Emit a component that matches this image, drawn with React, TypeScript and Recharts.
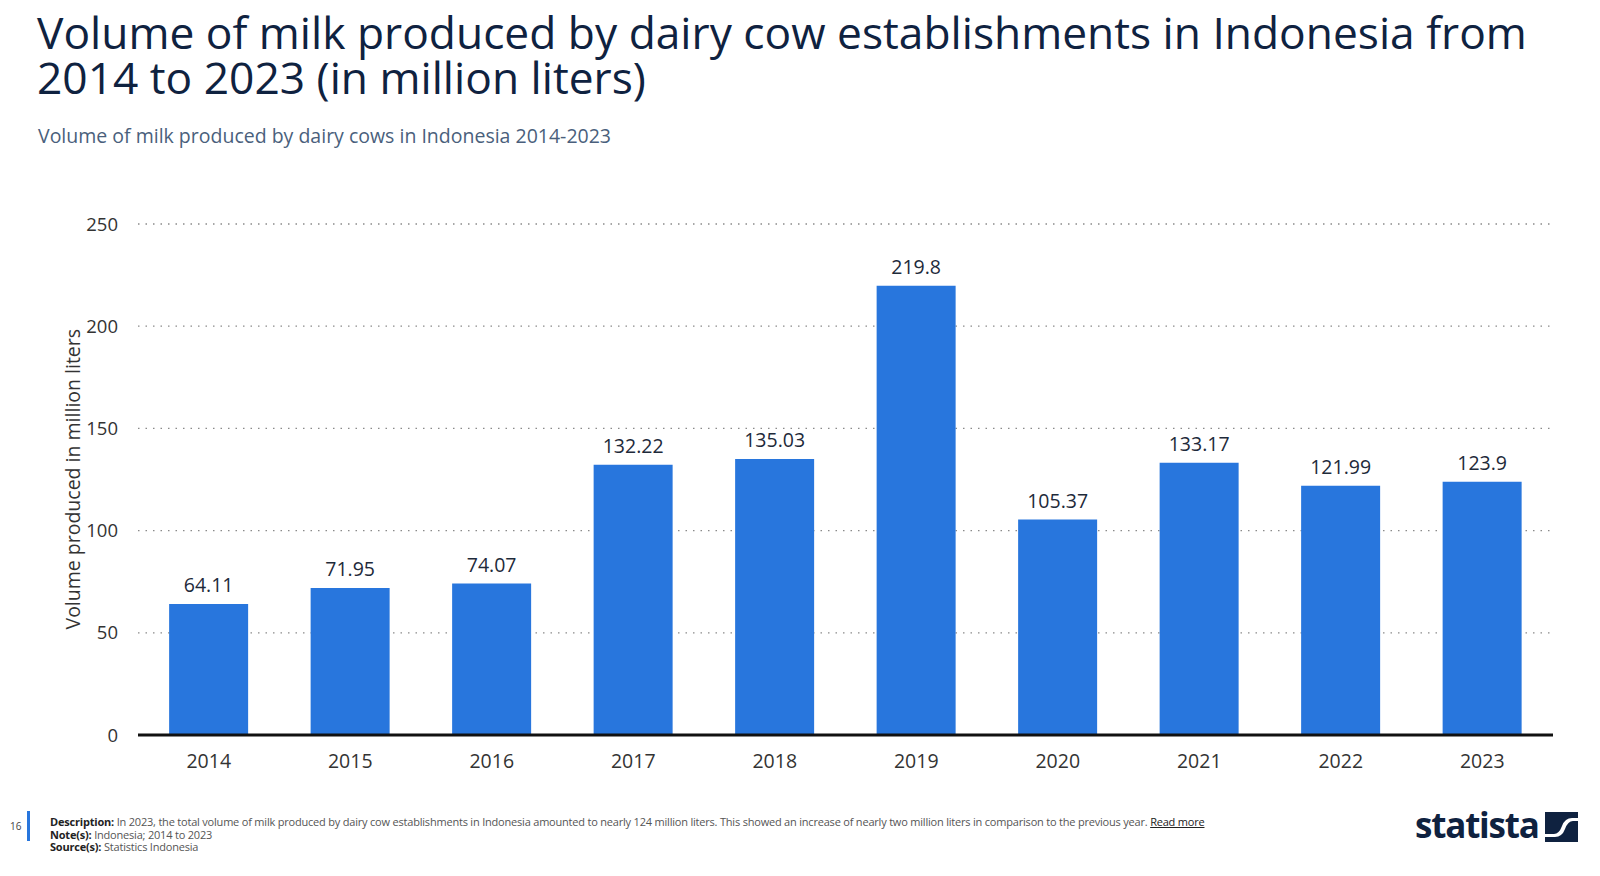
import React from "react";
import { BarChart, Bar, XAxis, YAxis, CartesianGrid, LabelList } from "recharts";

const years = ["2014", "2015", "2016", "2017", "2018", "2019", "2020", "2021", "2022", "2023"];
const volumes = [64.11, 71.95, 74.07, 132.22, 135.03, 219.8, 105.37, 133.17, 121.99, 123.9];
const yTicks = [0, 50, 100, 150, 200, 250];

const data = years.map((y, i) => ({ year: y, value: volumes[i] }));

const FONT = "'Open Sans', 'Noto Sans', sans-serif";

export default function App() {
  return (
    <div style={{ position: "absolute", left: 0, top: 0, width: 1600, height: 876, background: "#fff", fontFamily: FONT, overflow: "hidden" }}>
      <div style={{ position: "absolute", left: 37, top: 10, fontSize: 44.3, lineHeight: "44.5px", color: "#0f2240", letterSpacing: 0 }}>
        <div>Volume of milk produced by dairy cow establishments in Indonesia from</div>
        <div>2014 to 2023 (in million liters)</div>
      </div>
      <div style={{ position: "absolute", left: 38, top: 122, fontSize: 19.5, color: "#4a5f7c" }}>
        Volume of milk produced by dairy cows in Indonesia 2014-2023
      </div>
      <div style={{ position: "absolute", left: 0, top: 0 }}>
        <BarChart
          width={1600}
          height={876}
          data={data}
          margin={{ top: 224, right: 47, bottom: 111, left: 78 }}
          barCategoryGap="22%"
        >
          <CartesianGrid vertical={false} stroke="#8a8a8a" strokeDasharray="1.5 6" strokeWidth={1.3} />
          <XAxis
            dataKey="year"
            axisLine={{ stroke: "#111", strokeWidth: 3 }}
            tickLine={false}
            tick={{ fill: "#333", fontSize: 19.5, fontFamily: FONT }}
            tickMargin={13}
            height={30}
          />
          <YAxis
            domain={[0, 250]}
            ticks={yTicks}
            axisLine={false}
            tickLine={false}
            tick={{ fill: "#333", fontSize: 18.5, fontFamily: FONT }}
            width={60}
            tickMargin={14}
            label={{ value: "Volume produced in million liters", angle: -90, position: "insideLeft", dx: -10, dy: 150, fill: "#333", fontSize: 19.5, fontFamily: FONT }}
          />
          <Bar dataKey="value" fill="#2876dd" isAnimationActive={false}>
            <LabelList dataKey="value" position="top" offset={12} fill="#1e2a3a" fontSize={19.5} fontFamily={FONT} />
          </Bar>
        </BarChart>
      </div>
      <div style={{ position: "absolute", left: 10, top: 819, fontSize: 10, color: "#444" }}>16</div>
      <div style={{ position: "absolute", left: 27, top: 811, width: 3, height: 30, background: "#2876dd" }} />
      <div style={{ position: "absolute", left: 50, top: 816, fontSize: 11, lineHeight: "12.5px", color: "#555", letterSpacing: -0.2 }}>
        <div>
          <b style={{ color: "#222" }}>Description:</b> In 2023, the total volume of milk produced by dairy cow establishments in Indonesia amounted to nearly 124 million liters. This showed an increase of nearly two million liters in comparison to the previous year.{" "}
          <span style={{ textDecoration: "underline", color: "#222" }}>Read more</span>
        </div>
        <div>
          <b style={{ color: "#222" }}>Note(s):</b> Indonesia; 2014 to 2023
        </div>
        <div>
          <b style={{ color: "#222" }}>Source(s):</b> Statistics Indonesia
        </div>
      </div>
      <div style={{ position: "absolute", left: 1415, top: 801, fontSize: 35, fontWeight: 700, color: "#0f2240", letterSpacing: -1.2, fontFamily: "'Open Sans', sans-serif" }}>
        statista
      </div>
      <svg style={{ position: "absolute", left: 1545, top: 812 }} width="33" height="30" viewBox="0 0 33 30">
        <rect x="0" y="0" width="33" height="30" fill="#0f2240" />
        <path d="M0 22 L9 22 Q14 22 17 14 Q20 6 27 6 L33 6 L33 9 L28 9 Q23 9 20 17 Q17 25 10 25 L0 25 Z" fill="#fff" />
      </svg>
    </div>
  );
}
